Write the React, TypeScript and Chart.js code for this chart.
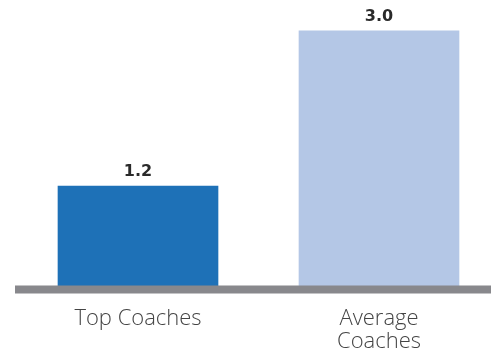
import React, { useEffect, useRef } from "react";
import { Chart, registerables } from "chart.js";

Chart.register(...registerables);

const categories: (string | string[])[] = ["Top Coaches", ["Average", "Coaches"]];
const values: number[] = [1.2, 3.0];
const barColors: string[] = ["#1e71b7", "#b4c7e6"];
const valueLabels: string[] = ["1.2", "3.0"];

const baselinePlugin = {
  id: "baseline",
  afterDatasetsDraw(chart: any) {
    const { ctx, chartArea } = chart;
    ctx.save();
    ctx.fillStyle = "#88888c";
    ctx.fillRect(15, chartArea.bottom - 4, chart.width - 15, 8);
    const meta = chart.getDatasetMeta(0);
    ctx.fillStyle = "#2a2a2a";
    ctx.font = "bold 16px 'DejaVu Sans', sans-serif";
    ctx.textAlign = "center";
    ctx.textBaseline = "middle";
    meta.data.forEach((bar: any, i: number) => {
      ctx.fillText(valueLabels[i], bar.x, bar.y - 14);
    });
    ctx.restore();
  },
};

export default function App() {
  const ref = useRef<HTMLCanvasElement>(null);
  useEffect(() => {
    const chart = new Chart(ref.current!, {
      type: "bar",
      data: {
        labels: categories,
        datasets: [
          {
            data: values,
            backgroundColor: barColors,
            barThickness: 160,
            clip: false as any,
          },
        ],
      },
      options: {
        animation: false,
        responsive: false,
        maintainAspectRatio: false,
        layout: { padding: { left: 138, right: 112, top: 5, bottom: 0 } },
        plugins: { legend: { display: false }, tooltip: { enabled: false } },
        scales: {
          x: {
            offset: false,
            grid: { display: false, drawTicks: false },
            border: { display: false },
            ticks: {
              padding: 18,
              color: "#444",
              font: { family: "'Open Sans', sans-serif", size: 22, weight: "300" as any, lineHeight: 1.05 },
              maxRotation: 0,
              autoSkip: false,
            },
            afterFit: (scale: any) => {
              scale.height = 62.5;
            },
          },
          y: {
            display: false,
            min: 0,
            max: 3.3,
          },
        },
      },
      plugins: [baselinePlugin],
    });
    return () => chart.destroy();
  }, []);
  return (
    <div style={{ position: "fixed", left: 0, top: 0, width: 491, height: 352, background: "#fff" }}>
      <canvas ref={ref} width={491} height={352} style={{ display: "block" }} />
    </div>
  );
}
